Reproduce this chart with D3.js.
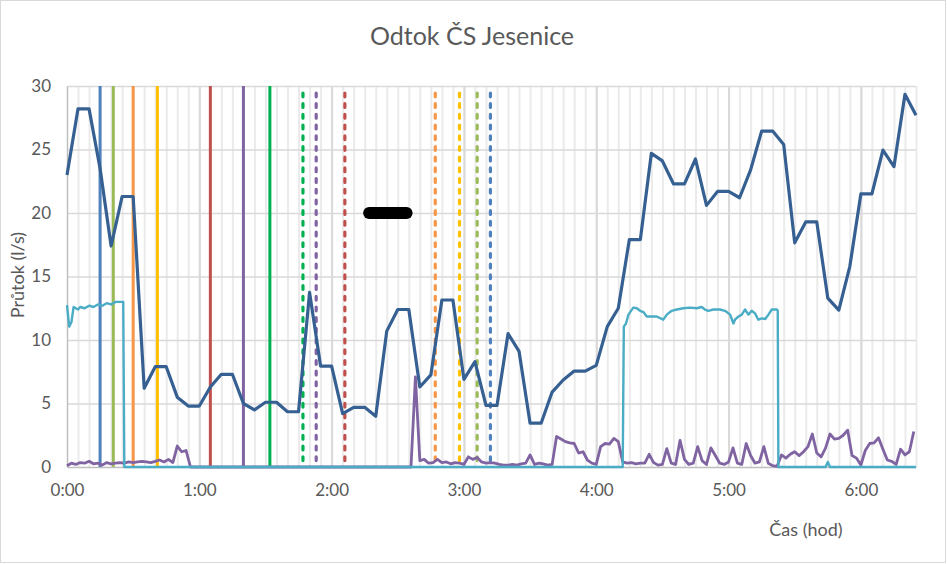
<!DOCTYPE html>
<html>
    <head>
        <meta charset="utf-8">
        <title>Odtok ČS Jesenice</title>
        <script src="https://d3js.org/d3.v7.min.js"></script>
        <style>
            html, body {
                margin: 0;
                padding: 0;
                overflow: hidden;
                background: #FFF;
            }
            text {
                font-family: Lato, "Open Sans", sans-serif;
                fill: #595959;
            }
            .grid line {
                stroke: #D9D9D9;
            }
            .grid path {
                display: none;
            }
        </style>
    </head>
    <body>
        <svg id="chart" width="947" height="564"></svg>
        <script>
            // odtok (l/s), 5 min interval from 0:00
            const flow = [23.0, 28.2, 28.2, 23.5, 17.4, 21.3, 21.3, 6.2, 7.9, 7.9,
                5.5, 4.8, 4.8, 6.3, 7.3, 7.3, 5.0, 4.5, 5.1, 5.1,
                4.35, 4.35, 13.75, 7.95, 7.95, 4.2, 4.7, 4.7, 4.0, 10.7,
                12.4, 12.4, 6.3, 7.25, 13.15, 13.15, 6.9, 8.3, 4.85, 4.85,
                10.5, 9.1, 3.45, 3.45, 5.9, 6.85, 7.55, 7.55, 8.0, 11.05,
                12.5, 17.9, 17.9, 24.7, 24.1, 22.3, 22.3, 24.25, 20.6, 21.7,
                21.7, 21.2, 23.4, 26.45, 26.45, 25.4, 17.65, 19.3, 19.3, 13.3,
                12.35, 15.8, 21.5, 21.5, 24.95, 23.65, 29.35, 27.7];
            const flowStep = 5;

            // fialová řada, 2 min interval
            const purple = [0.1, 0.3, 0.2, 0.35, 0.3, 0.45, 0.25, 0.3, 0.15, 0.35,
                0.25, 0.3, 0.35, 0.3, 0.4, 0.35, 0.4, 0.45, 0.4, 0.35,
                0.45, 0.55, 0.4, 0.6, 0.35, 1.65, 1.2, 1.3, 0, 0,
                0, 0, 0, 0, 0, 0, 0, 0, 0, 0,
                0, 0, 0, 0, 0, 0, 0, 0, 0, 0,
                0, 0, 0, 0, 0, 0, 0, 0, 0, 0,
                0, 0, 0, 0, 0, 0, 0, 0, 0, 0,
                0, 0, 0, 0, 0, 0, 0, 0, 0, 7.1,
                0.5, 0.6, 0.3, 0.35, 0.6, 0.35, 0.4, 0.25, 0.35, 0.3,
                0.2, 0.8, 0.6, 0.75, 0.4, 0.3, 0.35, 0.3, 0.2, 0.15,
                0.15, 0.2, 0.15, 0.25, 0.3, 0.95, 0.2, 0.3, 0.25, 0.15,
                0.2, 2.4, 2.2, 2.0, 1.9, 1.85, 1.1, 1.2, 0.55, 0.3,
                0.2, 1.6, 1.85, 1.8, 2.25, 2.0, 0.4, 0.3, 0.35, 0.25,
                0.3, 0.3, 1.0, 0.35, 0.15, 0.2, 1.45, 0.3, 0.2, 2.1,
                0.6, 0.2, 0.3, 1.6, 0.5, 0.2, 1.5, 0.9, 0.3, 0.2,
                0.4, 1.5, 0.3, 0.2, 1.85, 0.9, 0.3, 0.4, 1.6, 0.3,
                0.1, 0.05, 0.95, 0.7, 1.0, 1.2, 0.9, 1.2, 1.6, 2.6,
                1.1, 0.8, 1.5, 2.6, 2.2, 2.25, 2.5, 2.9, 0.9, 0.7,
                0.15, 1.3, 1.85, 1.9, 2.3, 1.4, 0.55, 0.45, 0.2, 1.4,
                0.95, 1.2, 2.8];
            const purpleStep = 2;

            // modrozelená řada (čas v min, hodnota)
            const cyanT = [0, 1, 2, 3, 4, 5, 6, 8, 10, 12, 14, 16, 18, 20, 22, 24, 25.5, 26,
                252, 252.5, 253.5, 254.6, 256.8, 258.4, 259.9, 261.4, 262.9, 265, 267.4, 270.4,
                272, 274.2, 276.5, 279.5, 282.5, 285.6, 287.8, 289.3, 290.8, 293.1, 296.1,
                298.4, 300.7, 302.2, 302.9, 304.5, 306, 307.5, 309, 310.5, 312, 313.5, 315.1,
                316.6, 318.1, 319.6, 321.9, 322.3, 322.6, 344, 345, 346, 385];
            const cyanV = [12.75, 11.05, 11.4, 12.6, 12.5, 12.4, 12.6, 12.5, 12.7, 12.6, 12.8, 12.7, 12.9, 12.8, 13.0, 13.0, 13.0, 0,
                0, 11.05, 11.3, 12.0, 12.55, 12.5, 12.3, 12.2, 11.85, 11.85, 11.85, 11.6,
                12.0, 12.3, 12.4, 12.5, 12.55, 12.5, 12.6, 12.4, 12.3, 12.4, 12.4,
                12.3, 12.0, 11.3, 11.6, 11.85, 12.0, 12.4, 12.0, 12.3, 12.1, 11.6, 11.7,
                11.65, 12.0, 12.4, 12.4, 12.3, 0, 0, 0.4, 0, 0];

            // svislé značky událostí (min)
            const solidEvents = [15, 21, 30, 41, 65, 80, 92];
            const dashedEvents = [107, 113, 126, 167, 178, 186, 192];
            const markerBarT = [137, 154];
            const markerBarV = [20, 20];

            const yTicks = [0, 5, 10, 15, 20, 25, 30];
            const xTicks = [0, 60, 120, 180, 240, 300, 360];
            const xTickLabels = ['0:00', '1:00', '2:00', '3:00', '4:00', '5:00', '6:00'];

            const solidColors = ['#4F81BD', '#9BBB59', '#F79646', '#FFC000', '#C0504D', '#8064A2', '#00B050'];
            const dashedColors = ['#00B050', '#8064A2', '#C0504D', '#F79646', '#FFC000', '#9BBB59', '#4F81BD'];

            const svg = d3.select('#chart');
            const plot = {left: 67, right: 916, top: 86, bottom: 467};

            svg.append('rect')
                .attr('x', 0.5).attr('y', 0.5)
                .attr('width', 945).attr('height', 562)
                .attr('fill', '#FFF')
                .attr('stroke', '#D9D9D9');

            const x = d3.scaleLinear()
                .domain([0, 385])
                .range([plot.left, plot.right]);
            const y = d3.scaleLinear()
                .domain([0, 30])
                .range([plot.bottom, plot.top]);

            // minor grid every 5 min
            svg.append('g')
                .attr('class', 'grid minor')
                .attr('transform', `translate(0 ${plot.bottom})`)
                .call(d3.axisBottom(x).tickValues(d3.range(5, 386, 5)).tickSize(-(plot.bottom - plot.top)).tickFormat(''))
                .selectAll('line')
                .style('stroke', '#EBEBEB')
                .attr('stroke-width', 2);

            svg.append('g')
                .attr('class', 'grid')
                .attr('transform', `translate(0 ${plot.bottom})`)
                .call(d3.axisBottom(x).tickValues(xTicks.slice(1)).tickSize(-(plot.bottom - plot.top)).tickFormat(''))
                .selectAll('line')
                .attr('stroke-width', 2);

            svg.append('g')
                .attr('class', 'grid')
                .attr('transform', `translate(${plot.left} 0)`)
                .call(d3.axisLeft(y).tickValues(yTicks.slice(1)).tickSize(-(plot.right - plot.left)).tickFormat(''))
                .selectAll('line')
                .attr('stroke-width', 1.5);

            // y axis
            const yAxis = svg.append('g')
                .attr('transform', `translate(${plot.left} 0)`)
                .call(d3.axisLeft(y).tickValues(yTicks).tickSize(0).tickPadding(16).tickSizeOuter(0));
            yAxis.select('.domain').attr('stroke', '#BFBFBF').attr('stroke-width', 1.5);
            yAxis.selectAll('text')
                .style('font-size', '17px')
                .attr('fill', '#595959');

            // x axis
            const xAxis = svg.append('g')
                .attr('transform', `translate(0 ${plot.bottom})`)
                .call(d3.axisBottom(x).tickValues(xTicks).tickFormat((d, i) => xTickLabels[i]).tickSize(0).tickPadding(17).tickSizeOuter(0));
            xAxis.select('.domain').attr('stroke', '#BFBFBF').attr('stroke-width', 1.5);
            xAxis.selectAll('text')
                .style('font-size', '17px')
                .attr('fill', '#595959');

            // event lines
            svg.append('g')
                .selectAll('line')
                .data(solidEvents)
                .join('line')
                .attr('x1', d => x(d)).attr('x2', d => x(d))
                .attr('y1', y(30)).attr('y2', y(0))
                .attr('stroke', (d, i) => solidColors[i])
                .attr('stroke-width', 3);

            svg.append('g')
                .selectAll('line')
                .data(dashedEvents)
                .join('line')
                .attr('x1', d => x(d)).attr('x2', d => x(d))
                .attr('y1', y(30) + 7).attr('y2', y(0))
                .attr('stroke', (d, i) => dashedColors[i])
                .attr('stroke-width', 3.2)
                .attr('stroke-linecap', 'round')
                .attr('stroke-dasharray', '3.8 6.9');

            // series
            const purpleLine = d3.line()
                .x((d, i) => x(i * purpleStep))
                .y(d => y(d));
            svg.append('path')
                .datum(purple)
                .attr('d', purpleLine)
                .attr('fill', 'none')
                .attr('stroke', '#8064A2')
                .attr('stroke-width', 2.8)
                .attr('stroke-linejoin', 'round');

            const cyanLine = d3.line()
                .x((d, i) => x(cyanT[i]))
                .y(d => y(d));
            svg.append('path')
                .datum(cyanV)
                .attr('d', cyanLine)
                .attr('fill', 'none')
                .attr('stroke', '#4BACC6')
                .attr('stroke-width', 2.4)
                .attr('stroke-linejoin', 'round');

            const flowLine = d3.line()
                .x((d, i) => x(i * flowStep))
                .y(d => y(d));
            svg.append('path')
                .datum(flow)
                .attr('d', flowLine)
                .attr('fill', 'none')
                .attr('stroke', '#366092')
                .attr('stroke-width', 3.2)
                .attr('stroke-linejoin', 'round');

            svg.append('path')
                .datum(markerBarV)
                .attr('d', d3.line().x((d, i) => x(markerBarT[i])).y(d => y(d)))
                .attr('stroke', '#000')
                .attr('stroke-width', 12)
                .attr('stroke-linecap', 'round');

            // titles
            svg.append('text')
                .attr('x', 472).attr('y', 45)
                .attr('text-anchor', 'middle')
                .style('font-size', '25px')
                .text('Odtok ČS Jesenice');

            svg.append('text')
                .attr('transform', 'translate(24 275) rotate(-90)')
                .attr('text-anchor', 'middle')
                .style('font-size', '18px')
                .text('Průtok (l/s)');

            svg.append('text')
                .attr('x', 806).attr('y', 536)
                .attr('text-anchor', 'middle')
                .style('font-size', '18px')
                .text('Čas (hod)');
        </script>
    </body>
</html>
